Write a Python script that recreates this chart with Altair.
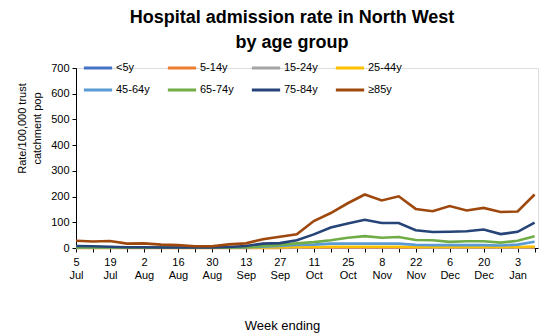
import altair as alt
import pandas as pd
import json

weeks = ["5 Jul","12 Jul","19 Jul","26 Jul","2 Aug","9 Aug","16 Aug","23 Aug","30 Aug",
         "6 Sep","13 Sep","20 Sep","27 Sep","4 Oct","11 Oct","18 Oct","25 Oct","1 Nov",
         "8 Nov","15 Nov","22 Nov","29 Nov","6 Dec","13 Dec","20 Dec","27 Dec","3 Jan","10 Jan"]

groups = ["<5y", "5-14y", "15-24y", "25-44y", "45-64y", "65-74y", "75-84y", "≥85y"]
colors = ["#4472C4", "#ED7D31", "#A5A5A5", "#FFC000", "#5B9BD5", "#70AD47", "#264478", "#9E480E"]

under5 = [2,2,2,1,1,1,1,1,1,1,1,1,1,1,2,2,2,2,2,2,2,2,2,2,3,2,2,3]
age5_14 = [0,0,0,0,0,0,0,0,0,0,0,0,0,1,1,1,1,1,1,1,1,1,1,1,1,1,1,1]
age15_24 = [1,1,1,1,1,1,1,1,1,1,1,1,2,2,3,3,3,3,3,3,3,2,2,2,2,2,2,3]
age25_44 = [1,1,1,1,1,1,1,1,1,1,1,2,3,4,4,5,5,5,5,5,4,4,4,4,4,4,4,6]
age45_64 = [2,2,2,1,1,1,1,1,1,1,2,5,8,12,13,17,17,17,17,17,12,11,11,11,11,10,13,24]
age65_74 = [2,2,2,1,1,1,1,1,1,1,3,8,12,18,23,30,40,46,40,43,31,30,24,26,26,21,28,46]
age75_84 = [8,7,5,3,3,2,2,2,2,4,8,17,19,30,53,80,95,110,97,97,69,62,63,65,72,54,63,99]
age85 = [28,25,27,17,18,13,11,7,7,14,18,34,44,53,105,136,174,208,185,201,152,143,163,146,156,140,142,208]

series = [under5, age5_14, age15_24, age25_44, age45_64, age65_74, age75_84, age85]

rows = []
for g, vals in zip(groups, series):
    for i, v in enumerate(vals):
        rows.append({"idx": i, "week": weeks[i], "group": g, "rate": v, "order": groups.index(g)})
df = pd.DataFrame(rows)

label_arr = json.dumps(weeks)
label_expr = f"datum.value % 2 == 0 ? split({label_arr}[datum.value], ' ') : ''"

font = "Liberation Sans"

chart = alt.Chart(df).mark_line(strokeWidth=2.6).encode(
    x=alt.X("idx:Q",
            scale=alt.Scale(domain=[0, 27.2], nice=False, zero=False),
            axis=alt.Axis(values=list(range(28)), labelExpr=label_expr, grid=False,
                          title="Week ending", titleFont=font, titleFontSize=13,
                          titleFontWeight="normal", titleColor="#000",
                          titleX=206, titleY=81, titleBaseline="alphabetic",
                          titleAnchor="middle", titleAlign="center",
                          labelFont=font, labelFontSize=11, labelColor="#000",
                          labelAngle=0, labelPadding=4, labelFlush=False,
                          labelOverlap=False, labelLineHeight=13,
                          domainColor="#000", tickColor="#000", tickSize=4)),
    y=alt.Y("rate:Q",
            scale=alt.Scale(domain=[0, 700], nice=False),
            axis=alt.Axis(values=list(range(0, 701, 100)), grid=False,
                          title=["Rate/100,000 trust", "catchment pop"],
                          titleFont=font, titleFontSize=11, titleFontWeight="normal",
                          titleColor="#000", titlePadding=8, titleLineHeight=15,
                          titleY=60,
                          labelFont=font, labelFontSize=11, labelColor="#000",
                          labelPadding=3, domainColor="#000", tickColor="#000", tickSize=4)),
    color=alt.Color("group:N",
                    scale=alt.Scale(domain=groups, range=colors),
                    sort=groups,
                    legend=alt.Legend(orient="none", legendX=6, legendY=-7,
                                      direction="horizontal", columns=4,
                                      title=None, symbolType="stroke",
                                      symbolSize=800, symbolStrokeWidth=3,
                                      clipHeight=14,
                                      labelFont=font, labelFontSize=11, labelColor="#000",
                                      labelOffset=2, columnPadding=16, rowPadding=8,
                                      gridAlign="all")),
    order=alt.Order("order:Q"),
    detail="group:N",
).properties(
    width=462, height=180,
    title=alt.TitleParams(["Hospital admission rate in North West", "by age group"],
                          font=font, fontSize=18, fontWeight="bold", color="#000",
                          anchor="middle", dx=-15, offset=9, lineHeight=25),
    autosize=alt.AutoSizeParams(type="none"),
    padding={"left": 68, "top": 60, "right": 7, "bottom": 86},
).configure_view(stroke=None).configure(background="white")

chart.save("out.html", embed_options={"renderer": "svg", "actions": False})
